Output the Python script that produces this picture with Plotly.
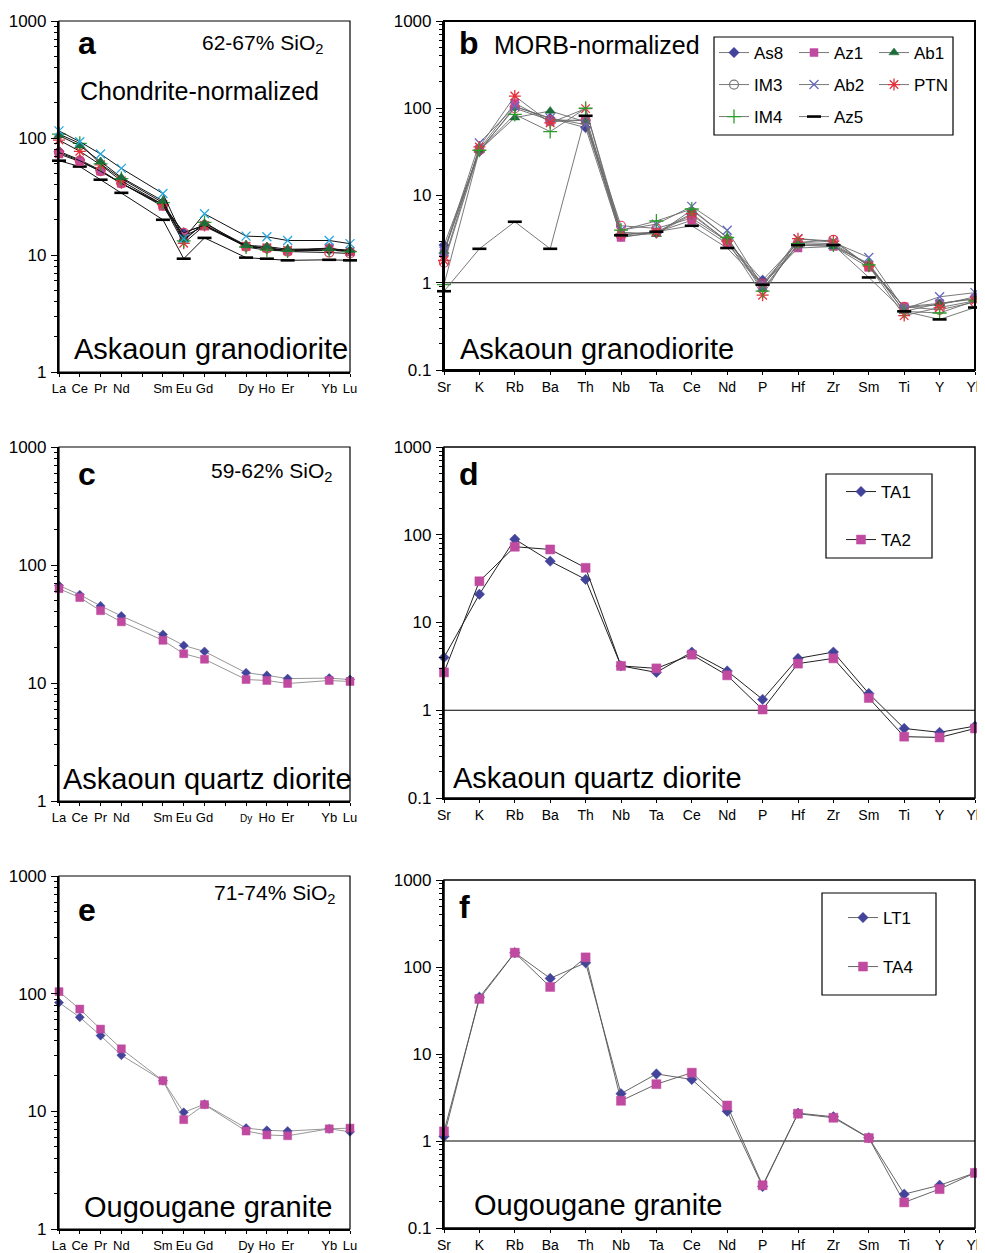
import plotly.graph_objects as go

# The page body has an 8px margin, so the figure is drawn 8px in from the window corner.
OFF = 8
W, H = 985 - OFF, 1253 - OFF
FONT = "Liberation Sans, Arial, Helvetica, sans-serif"

# ---------------- categories ----------------
REE_ALL = ["La", "Ce", "Pr", "Nd", "Pm", "Sm", "Eu", "Gd", "Tb", "Dy", "Ho", "Er", "Tm", "Yb", "Lu"]
REE_TICKS = ["La", "Ce", "Pr", "Nd", "", "Sm", "Eu", "Gd", "", "Dy", "Ho", "Er", "", "Yb", "Lu"]
REE = ["La", "Ce", "Pr", "Nd", "Sm", "Eu", "Gd", "Dy", "Ho", "Er", "Yb", "Lu"]
SPIDER = ["Sr", "K", "Rb", "Ba", "Th", "Nb", "Ta", "Ce", "Nd", "P", "Hf", "Zr", "Sm", "Ti", "Y", "Yb"]

# ---------------- panel a: chondrite-normalized, Askaoun granodiorite ----------------
A_AS8 = [77, 65, 53, 41, 27, 15.5, 18, 12, 11.3, 11, 11, 10.8]
A_AZ1 = [73, 63, 52, 41, 26, 14.5, 17.6, 11.8, 11.5, 10.8, 11.5, 10.6]
A_AB1 = [105, 86, 63, 46, 29, 13.6, 18.6, 12.1, 11.8, 11.2, 11.3, 11.0]
A_IM3 = [75, 64, 52, 41, 26.5, 15.5, 18, 11.8, 11.4, 10.7, 10.5, 10.3]
A_AB2 = [115, 93, 73, 55, 33.5, 13.8, 22.5, 14.5, 14.3, 13.3, 13.3, 12.5]
A_PTN = [96, 77, 59, 43, 27, 12.6, 17.9, 11.9, 11.5, 11, 11.3, 10.8]
A_IM4 = [108, 90, 60, 45, 28, 13.2, 19, 11.7, 11, 10.8, 11, 10.7]
A_AZ5 = [64, 57, 44, 34, 20, 9.3, 14, 9.5, 9.3, 9.0, 9.1, 9.0]

# ---------------- panel b: MORB-normalized, Askaoun granodiorite ----------------
B_AS8 = [2.7, 32, 104, 77, 60, 3.4, 3.7, 6.0, 3.0, 1.07, 2.9, 2.8, 1.6, 0.52, 0.56, 0.69]
B_AZ1 = [2.2, 34, 114, 70, 73, 3.3, 3.8, 5.2, 2.8, 0.95, 2.5, 2.6, 1.5, 0.53, 0.58, 0.66]
B_AB1 = [2.3, 33, 78, 93, 70, 3.8, 3.6, 6.8, 3.3, 0.85, 2.7, 2.6, 1.67, 0.47, 0.58, 0.65]
B_IM3 = [1.7, 33, 100, 73, 73, 4.5, 4.2, 5.5, 3.0, 0.98, 2.9, 3.1, 1.55, 0.53, 0.49, 0.60]
B_AB2 = [2.3, 40, 105, 77, 65, 4.0, 4.7, 7.5, 4.0, 0.90, 3.2, 2.9, 1.95, 0.50, 0.69, 0.77]
B_PTN = [1.8, 36, 138, 68, 99, 3.6, 3.8, 6.2, 3.0, 0.72, 3.2, 3.0, 1.55, 0.42, 0.52, 0.62]
B_IM4 = [0.95, 33, 85, 54, 100, 4.0, 5.1, 7.0, 3.3, 0.80, 2.8, 2.7, 1.6, 0.47, 0.45, 0.62]
B_AZ5 = [0.8, 2.45, 5.0, 2.45, 82, 3.5, 3.85, 4.5, 2.5, 0.95, 2.7, 2.7, 1.15, 0.47, 0.38, 0.52]

# ---------------- panel c / d: Askaoun quartz diorite ----------------
C_TA1 = [67, 56, 45, 37, 25.8, 20.8, 18.5, 12.2, 11.6, 10.9, 11.0, 10.7]
C_TA2 = [63, 53, 41, 33, 23, 17.7, 15.9, 10.7, 10.5, 9.9, 10.5, 10.3]
D_TA1 = [4.0, 21, 89, 50, 31, 3.2, 2.7, 4.6, 2.8, 1.33, 3.9, 4.6, 1.55, 0.62, 0.56, 0.66]
D_TA2 = [2.7, 29.5, 73, 68, 42, 3.2, 3.0, 4.3, 2.5, 1.02, 3.4, 3.9, 1.38, 0.50, 0.49, 0.62]

# ---------------- panel e / f: Ougougane granite ----------------
E_LT1 = [84, 63, 44, 30, 18.2, 9.8, 11.5, 7.2, 6.9, 6.8, 7.1, 6.7]
E_TA4 = [104, 74, 50, 34, 18.2, 8.5, 11.4, 6.8, 6.3, 6.2, 7.1, 7.2]
F_LT1 = [1.13, 45, 146, 74, 112, 3.5, 5.9, 5.1, 2.2, 0.30, 2.09, 1.9, 1.09, 0.245, 0.31, 0.43]
F_TA4 = [1.29, 43, 146, 59, 129, 2.9, 4.5, 6.1, 2.56, 0.31, 2.06, 1.85, 1.08, 0.197, 0.28, 0.43]

# ---------------- styles ----------------
BLUE = "#42439a"
MAG = "#c04aa0"
STY = {
    "As8": dict(symbol="diamond", color=BLUE, size=8, lw=0.5),
    "Az1": dict(symbol="square", color=MAG, size=8, lw=0.5),
    "Ab1": dict(symbol="triangle-up", color="#1c6d3a", size=9, lw=0.5),
    "IM3": dict(symbol="circle-open", color="#d9405a", size=9, lw=1.2),
    "Ab2": dict(symbol="x-thin", color="#6868c4", size=9, lw=1.3),
    "PTN": dict(symbol="asterisk", color="#e4303c", size=10, lw=1.3),
    "IM4": dict(symbol="cross-thin", color="#2a9d2a", size=10, lw=1.3),
    "Az5": dict(symbol="line-ew", color="#000000", size=10, lw=2.6),
}


def mk(name, color=None, size=None):
    s = STY[name]
    c = color or s["color"]
    return dict(symbol=s["symbol"], size=size or s["size"], color=c,
                line=dict(color=c, width=s["lw"]))


def idx(full, elems):
    return [full.index(e) for e in elems]


XR = idx(REE_ALL, REE)
XS = list(range(len(SPIDER)))

fig = go.Figure()

# panel a
A_SERIES = [("Az5", A_AZ5), ("As8", A_AS8), ("Az1", A_AZ1), ("IM3", A_IM3),
            ("PTN", A_PTN), ("IM4", A_IM4), ("Ab1", A_AB1), ("Ab2", A_AB2)]
for name, vals in A_SERIES:
    col = "#29a8e0" if name == "Ab2" else None
    fig.add_trace(go.Scatter(x=XR, y=vals, xaxis="x", yaxis="y", mode="lines+markers",
                             line=dict(color="#111111", width=1), marker=mk(name, col),
                             cliponaxis=False, showlegend=False, name=name))

# panel b
B_SERIES = [("As8", B_AS8, "legend"), ("Az1", B_AZ1, "legend2"), ("Ab1", B_AB1, "legend3"),
            ("IM3", B_IM3, "legend4"), ("Ab2", B_AB2, "legend5"), ("PTN", B_PTN, "legend6"),
            ("IM4", B_IM4, "legend7"), ("Az5", B_AZ5, "legend8")]
for name, vals, lg in B_SERIES:
    if name == "IM3":
        fig.add_trace(go.Scatter(x=XS, y=vals, xaxis="x2", yaxis="y2", mode="lines+markers",
                                 line=dict(color="#6a6a6a", width=0.9), marker=mk(name),
                                 cliponaxis=False, showlegend=False, name=name))
        fig.add_trace(go.Scatter(x=[None], y=[None], xaxis="x2", yaxis="y2", mode="lines+markers",
                                 line=dict(color="#6a6a6a", width=0.9),
                                 marker=mk(name, color="#7a7a7a"),
                                 showlegend=True, legend=lg, name=name))
    else:
        fig.add_trace(go.Scatter(x=XS, y=vals, xaxis="x2", yaxis="y2", mode="lines+markers",
                                 line=dict(color="#6a6a6a", width=0.9), marker=mk(name),
                                 cliponaxis=False, showlegend=True, legend=lg, name=name))

# panel c
for name, vals, sym, col, sz in [("TA1", C_TA1, "diamond", BLUE, 7), ("TA2", C_TA2, "square", MAG, 8)]:
    fig.add_trace(go.Scatter(x=XR, y=vals, xaxis="x3", yaxis="y3", mode="lines+markers",
                             line=dict(color="#8a8a8a", width=0.9),
                             marker=dict(symbol=sym, size=sz, color=col, line=dict(color=col, width=0.5)),
                             cliponaxis=False, showlegend=False, name=name))
# panel d
for name, vals, sym, col, sz, lg in [("TA1", D_TA1, "diamond", BLUE, 8, "legend9"),
                                     ("TA2", D_TA2, "square", MAG, 9, "legend10")]:
    fig.add_trace(go.Scatter(x=XS, y=vals, xaxis="x4", yaxis="y4", mode="lines+markers",
                             line=dict(color="#222222", width=1),
                             marker=dict(symbol=sym, size=sz, color=col, line=dict(color=col, width=0.5)),
                             cliponaxis=False, showlegend=True, legend=lg, name=name))
# panel e
for name, vals, sym, col, sz in [("LT1", E_LT1, "diamond", BLUE, 7), ("TA4", E_TA4, "square", MAG, 8)]:
    fig.add_trace(go.Scatter(x=XR, y=vals, xaxis="x5", yaxis="y5", mode="lines+markers",
                             line=dict(color="#8a8a8a", width=0.9),
                             marker=dict(symbol=sym, size=sz, color=col, line=dict(color=col, width=0.5)),
                             cliponaxis=False, showlegend=False, name=name))
# panel f
for name, vals, sym, col, sz, lg in [("LT1", F_LT1, "diamond", BLUE, 8, "legend11"),
                                     ("TA4", F_TA4, "square", MAG, 9, "legend12")]:
    fig.add_trace(go.Scatter(x=XS, y=vals, xaxis="x6", yaxis="y6", mode="lines+markers",
                             line=dict(color="#555555", width=0.9),
                             marker=dict(symbol=sym, size=sz, color=col, line=dict(color=col, width=0.5)),
                             cliponaxis=False, showlegend=True, legend=lg, name=name))


# ---------------- helpers: window pixels -> paper fractions ----------------
def px_x(x):
    return (x - OFF) / W


def px_y(y):
    return 1 - (y - OFF) / H


def xd(l, r):
    return [px_x(l), px_x(r)]


def yd(t, b):
    return [px_y(b), px_y(t)]


MINOR = dict(ticks="outside", ticklen=3, tickwidth=1, tickcolor="black", dtick="D1", showgrid=False)


def yax(dom, lo, anchor):
    return dict(type="log", range=[lo, 3], domain=dom, anchor=anchor,
                tickvals=[0.1, 1, 10, 100, 1000][(0 if lo < 0 else 1):],
                ticktext=["0.1", "1", "10", "100", "1000"][(0 if lo < 0 else 1):],
                ticks="outside", ticklen=6, tickwidth=1.2, tickcolor="black",
                minor=MINOR, showgrid=False, zeroline=False, automargin=False,
                showline=True, linewidth=2.2, linecolor="black", mirror=False,
                tickfont=dict(family=FONT, size=17, color="black"), ticklabelstandoff=1)


def xax(dom, n, tickt, anchor, size):
    return dict(range=[0, n - 1], domain=dom, anchor=anchor,
                tickvals=list(range(n)), ticktext=tickt,
                ticks="outside", ticklen=3, tickwidth=1, tickcolor="black",
                showgrid=False, zeroline=False, showline=True, linewidth=2.2,
                linecolor="black", mirror=False, automargin=False,
                tickfont=dict(family=FONT, size=size, color="black"), ticklabelstandoff=0)


REE_TICKS_C = [t if t != "Dy" else "<span style='font-size:10px'>Dy</span>" for t in REE_TICKS]

LEFT = xd(59, 350)
RIGHT = xd(444, 975)
layout = dict(
    width=W, height=H, margin=dict(l=0, r=0, t=0, b=0, pad=0, autoexpand=False),
    paper_bgcolor="white", plot_bgcolor="white",
    font=dict(family=FONT, color="black"),
    xaxis=xax(LEFT, len(REE_ALL), REE_TICKS, "y", 13),
    yaxis=yax(yd(21, 372), 0, "x"),
    xaxis2=xax(RIGHT, len(SPIDER), SPIDER, "y2", 14),
    yaxis2=yax(yd(21, 370), -1, "x2"),
    xaxis3=xax(LEFT, len(REE_ALL), REE_TICKS_C, "y3", 13),
    yaxis3=yax(yd(447, 801), 0, "x3"),
    xaxis4=xax(RIGHT, len(SPIDER), SPIDER, "y4", 14),
    yaxis4=yax(yd(447, 798), -1, "x4"),
    xaxis5=xax(LEFT, len(REE_ALL), REE_TICKS, "y5", 13),
    yaxis5=yax(yd(876, 1229), 0, "x5"),
    xaxis6=xax(RIGHT, len(SPIDER), SPIDER, "y6", 14),
    yaxis6=yax(yd(880, 1228), -1, "x6"),
)


# ---------------- legends (one per entry, placed on a grid) ----------------
def leg(px, py):
    return dict(x=px_x(px), y=px_y(py), xanchor="left", yanchor="middle",
                bgcolor="rgba(0,0,0,0)", borderwidth=0, itemwidth=30,
                font=dict(family=FONT, size=17, color="black"))


LEG_POS = {
    "legend": (714, 53), "legend2": (794, 53), "legend3": (874, 53),
    "legend4": (714, 85), "legend5": (794, 85), "legend6": (874, 85),
    "legend7": (714, 117), "legend8": (794, 117),
    "legend9": (841, 492), "legend10": (841, 540),
    "legend11": (843, 918), "legend12": (843, 967),
}
for k, (px, py) in LEG_POS.items():
    layout[k] = leg(px, py)

# ---------------- frames, unit lines, legend boxes ----------------
shapes = []
for i, w in [("", 1.2), ("2", 2.0), ("3", 1.2), ("4", 1.5), ("5", 1.2), ("6", 1.5)]:
    shapes.append(dict(type="rect", xref=f"x{i} domain", yref=f"y{i} domain",
                       x0=0, x1=1, y0=0, y1=1, line=dict(color="black", width=w), layer="above"))
for i in ["2", "4", "6"]:
    shapes.append(dict(type="line", xref=f"x{i} domain", yref=f"y{i}",
                       x0=0, x1=1, y0=1, y1=1, line=dict(color="black", width=1), layer="below"))
for (l, t, r, b) in [(714, 37, 953, 135), (826, 474, 932, 558), (822, 893, 936, 995)]:
    shapes.append(dict(type="rect", xref="paper", yref="paper",
                       x0=px_x(l), x1=px_x(r), y0=px_y(b), y1=px_y(t),
                       line=dict(color="black", width=1.2)))
layout["shapes"] = shapes


# ---------------- texts ----------------
def ann(text, px, py, size, bold=False):
    return dict(text=f"<b>{text}</b>" if bold else text, x=px_x(px), y=px_y(py),
                xref="paper", yref="paper", xanchor="left", yanchor="middle",
                showarrow=False, font=dict(family=FONT, size=size, color="black"))


layout["annotations"] = [
    ann("a", 76, 43, 32, True),
    ann("62-67% SiO<sub>2</sub>", 200, 44, 21),
    ann("Chondrite-normalized", 78, 91, 25),
    ann("Askaoun granodiorite", 72, 349, 29),
    ann("b", 457, 43, 32, True),
    ann("MORB-normalized", 492, 45, 25),
    ann("Askaoun granodiorite", 458, 349, 29),
    ann("c", 76, 474, 32, True),
    ann("59-62% SiO<sub>2</sub>", 209, 472, 21),
    ann("Askaoun quartz diorite", 61, 779, 29),
    ann("d", 457, 474, 32, True),
    ann("Askaoun quartz diorite", 451, 778, 29),
    ann("e", 76, 910, 32, True),
    ann("71-74% SiO<sub>2</sub>", 212, 894, 21),
    ann("Ougougane granite", 82, 1207, 29),
    ann("f", 457, 907, 32, True),
    ann("Ougougane granite", 472, 1205, 29),
]

fig.update_layout(**layout)
fig.write_html("out.html")
